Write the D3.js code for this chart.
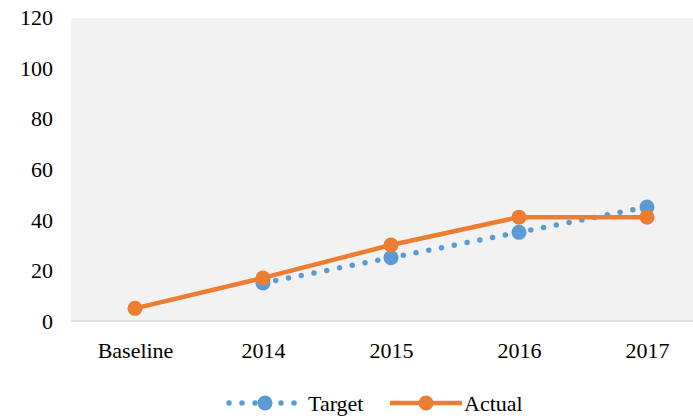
<!DOCTYPE html>
<html><head><meta charset="utf-8">
<script src="https://cdn.jsdelivr.net/npm/d3@7"></script>
<style>body{margin:0;background:#fff}svg{display:block}svg text{font-family:"Liberation Serif","Times New Roman","DejaVu Serif",serif !important;fill:#000;font-size:22px}</style>
</head><body><svg id="c" width="693" height="419"></svg>
<script>
const categories = ["Baseline","2014","2015","2016","2017"];
const targetValues = [null,15,25,35,45];
const actualValues = [5,17,30,41,41];
const yTicks = [0,20,40,60,80,100,120];
const seriesNames = ["Target","Actual"];

const svg = d3.select("#c");
const mLeft = 71, mRight = 711, mTop = 17, mBottom = 321;
const x = d3.scalePoint().domain(categories).range([mLeft, mRight]).padding(0.5);
const y = d3.scaleLinear().domain([0,120]).range([mBottom, mTop]);

svg.append("rect").attr("x", mLeft).attr("y", mTop+1).attr("width", mRight-mLeft).attr("height", mBottom-mTop-1).attr("fill", "#f2f2f2");
svg.append("line").attr("x1", mLeft).attr("x2", mRight).attr("y1", mBottom).attr("y2", mBottom).attr("stroke", "#d9d9d9").attr("stroke-width", 1.5);

const yAxis = svg.append("g").attr("transform", `translate(${mLeft-18},0)`)
  .call(d3.axisLeft(y).tickValues(yTicks).tickSize(0).tickPadding(0));
yAxis.attr("font-family", null).attr("font-size", null);
yAxis.select(".domain").remove();
yAxis.selectAll("text").attr("dy","0.34em");

const xAxis = svg.append("g").attr("transform", `translate(0,${mBottom+37})`)
  .call(d3.axisBottom(x).tickSize(0).tickPadding(0));
xAxis.attr("font-family", null).attr("font-size", null);
xAxis.select(".domain").remove();
xAxis.selectAll("text").attr("dy","0");

const blue = "#5b9bd5", orange = "#ed7d31";
const tData = categories.map((c,i)=>({c, v: targetValues[i]})).filter(d=>d.v!=null);
const aData = categories.map((c,i)=>({c, v: actualValues[i]}));
const line = d3.line().x(d=>x(d.c)).y(d=>y(d.v));

svg.append("path").datum(tData).attr("d", line).attr("fill","none").attr("stroke", blue)
  .attr("stroke-width", 5.5).attr("stroke-linecap","round").attr("stroke-dasharray","0,13");
svg.selectAll(".tdot").data(tData).enter().append("circle").attr("cx", d=>x(d.c)).attr("cy", d=>y(d.v)).attr("r", 7.5).attr("fill", blue);

svg.append("path").datum(aData).attr("d", line).attr("fill","none").attr("stroke", orange).attr("stroke-width", 4.5);
svg.selectAll(".adot").data(aData).enter().append("circle").attr("cx", d=>x(d.c)).attr("cy", d=>y(d.v)).attr("r", 7.5).attr("fill", orange);

// legend
const ly = 403;
const lg = svg.append("g");
const legend = [{name: seriesNames[0], color: blue, x0: 229, dotted: true, tx: 308},
                {name: seriesNames[1], color: orange, x0: 390, dotted: false, tx: 464}];
legend.forEach(l => {
  const p = lg.append("line").attr("x1", l.x0).attr("x2", l.x0+72).attr("y1", ly).attr("y2", ly).attr("stroke", l.color);
  if (l.dotted) p.attr("stroke-width", 5.5).attr("stroke-linecap","round").attr("stroke-dasharray","0,13");
  else p.attr("stroke-width", 4.5);
  lg.append("circle").attr("cx", l.x0+36).attr("cy", ly).attr("r", 7.5).attr("fill", l.color);
  lg.append("text").attr("x", l.tx).attr("y", 411).text(l.name);
});
</script></body></html>
